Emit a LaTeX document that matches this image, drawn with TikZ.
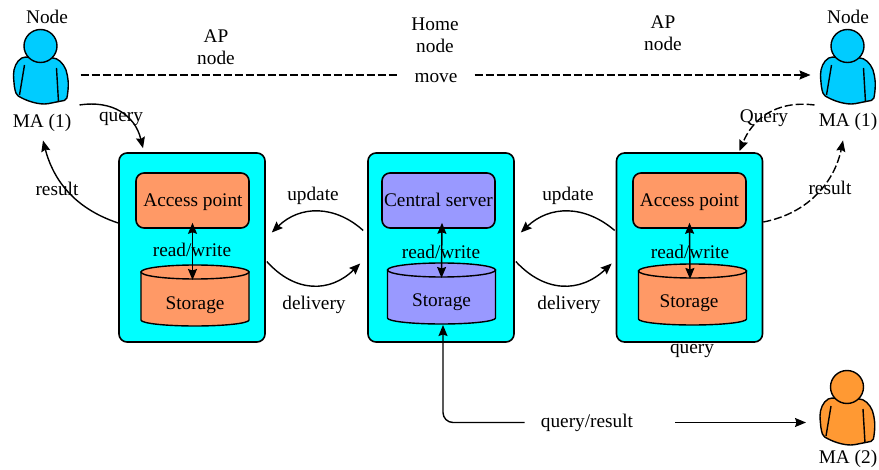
\documentclass[tikz,border=0pt]{standalone}
\usepackage{fontspec}
\setmainfont{Liberation Serif}
\usetikzlibrary{arrows.meta}
\definecolor{cellcyan}{HTML}{00FFFF}
\definecolor{apfill}{HTML}{FF9966}
\definecolor{homefill}{HTML}{9999FF}
\definecolor{userblue}{HTML}{00CCFF}
\definecolor{userorange}{HTML}{FF9933}
\begin{document}
\begin{tikzpicture}[
        x=1pt, y=-1pt,
        font=\fontsize{19.3}{22}\selectfont,
        cell/.style={rectangle, draw=black, fill=cellcyan, line width=1.6pt, rounded corners=8pt, minimum width=146pt, minimum height=189pt},
        server/.style={rectangle, draw=black, line width=1.6pt, rounded corners=8pt, minimum width=113pt, minimum height=55pt, inner sep=0pt},
        label/.style={inner sep=0pt, align=center, yshift=-1.5pt},
        arrow/.style={->, >={Stealth[length=11pt,width=9pt,inset=1.5pt]}, line width=1.4pt},
        both/.style={<->, >={Stealth[length=11pt,width=9pt,inset=1.5pt]}, line width=1.4pt},
        longdash/.style={dash pattern=on 8pt off 3pt},
        store/.pic={
            \draw[fill=#1, line width=1.4pt] (-54,-24) -- (-54,24) arc[start angle=180, end angle=360, x radius=54pt, y radius=6pt] -- (54,-24) -- cycle;
            \draw[fill=#1, line width=1.4pt] (0,-24) ellipse[x radius=54pt, y radius=7pt];
            \coordinate (-top) at (0,-16);
            \coordinate (-bottom) at (0,31);
        },
        person/.pic={
            \draw[fill=#1, line width=1.4pt, rounded corners=2pt] (-17,11) .. controls (-24,15) and (-27,22) .. (-27,31) -- (-26,42) -- (-24,49) .. controls (-14,55) and (-4,58) .. (6,58) -- (26,54) .. controls (28,44) and (28,36) .. (27,31) .. controls (26,22) and (21,15) .. (14,12) -- cycle;
            \draw[line width=1.4pt] (-16,19) -- (-21,49) (16,22) -- (18,56);
            \draw[fill=#1, line width=1.4pt] (0,0) circle (16.5);
            \coordinate (-east) at (27,29);
            \coordinate (-west) at (-27,29);
            \coordinate (-se) at (39,59);
            \coordinate (-sw) at (-33,59);
        }
    ]
    \useasboundingbox (0,0) rectangle (879,470);

    % Cells
    \node (cell1) at (192,247.5) [cell] {};
    \node (cell2) at (441,247.5) [cell] {};
    \node (cell3) at (689.5,247.5) [cell] {};

    \node (ap1) at (192.5,200.5) [server, fill=apfill] {};
    \node (central) at (438.5,200.5) [server, fill=homefill] {};
    \node (ap3) at (689.5,200.5) [server, fill=apfill] {};
    \node (aptext1) at (193,201) [label] {Access point};
    \node (centraltext) at (438.5,198.5) [label] {Central server};
    \node (aptext3) at (689.5,201) [label] {Access point};

    \pic (store1) at (195,296) {store=apfill};
    \pic (store2) at (441.5,294) {store=homefill};
    \pic (store3) at (692.5,295) {store=apfill};

    \node (storetext1) at (195,304) [label] {Storage};
    \node (storetext2) at (441.5,301) [label] {Storage};
    \node (storetext3) at (689,302) [label] {Storage};

    % Users
    \pic (user1) at (40.5,46) {person=userblue};
    \pic (user3) at (847.5,46) {person=userblue};
    \pic (user2) at (847,387) {person=userorange};

    \node (node1) at (47,15) [label] {Node};
    \node (node3) at (848,15) [label] {Node};
    \node (ma1) at (42,121) [label] {MA (1)};
    \node (ma3) at (848,120) [label] {MA (1)};
    \node (ma2) at (848,457) [label] {MA (2)};

    % Top row
    \node (apnode1) at (216,46) [label] {AP\\node};
    \node (home) at (435,34) [label] {Home\\node};
    \node (apnode3) at (663,32) [label] {AP\\node};
    \node (move) at (436,77) [label] {move};
    \draw[line width=1.5pt, longdash, shorten <=13pt] (user1-east) -- ([xshift=-17pt]move.west |- user1-east);
    \draw[arrow, line width=1.5pt, longdash, shorten >=10pt] ([xshift=17pt]move.east |- user3-west) -- (user3-west);

    % Read and write
    \node (rw1) at (192,248) [label] {read/write};
    \node (rw2) at (441,250) [label] {read/write};
    \node (rw3) at (690,250) [label] {read/write};
    \draw[both] ([yshift=6pt]ap1.south) -- ([xshift=-2.5pt]store1-top);
    \draw[both] ([xshift=3.5pt,yshift=6pt]central.south) -- (store2-top);
    \draw[both] ([yshift=6pt]ap3.south) -- ([xshift=-2.5pt]store3-top);

    % Between cells
    \node (update1) at (313,194) [label] {update};
    \node (delivery1) at (314,303) [label] {delivery};
    \node (update2) at (568,194) [label] {update};
    \node (delivery2) at (569,303) [label] {delivery};
    \draw[arrow] ([shift={(-4,-17)}]cell2.west) .. controls (335,205) and (300,205) .. ([shift={(6,-15)}]cell1.east);
    \draw[arrow] ([shift={(1,14)}]cell1.east) .. controls (295,293) and (330,293) .. ([shift={(-7,16)}]cell2.west);
    \draw[arrow] ([shift={(-1,-17)}]cell3.west) .. controls (585,205) and (550,205) .. ([shift={(6,-15)}]cell2.east);
    \draw[arrow] ([shift={(1,14)}]cell2.east) .. controls (545,293) and (580,293) .. ([shift={(-4,16)}]cell3.west);

    % Queries and results
    \node (query1) at (121,117) [label] {query};
    \node (result1) at (57,187) [label] {result};
    \node (query3) at (764,117) [label] {Query};
    \node (result3) at (830,186) [label] {result};
    \node (query4) at (692,349) [label] {query};
    \node (queryresult) at (587,421) [label] {query/result};
    \draw[arrow] (user1-se) .. controls (112,100) and (135,115) .. ([xshift=-49pt,yshift=4pt]cell1.north);
    \draw[arrow] (cell1.west |- 0,223) .. controls (70,207) and (52,175) .. ([shift={(1,9)}]ma1.south);
    \draw[arrow, longdash] (user3-sw) .. controls (775,100) and (752,120) .. ([xshift=50pt,yshift=1pt]cell3.north);
    \draw[arrow, longdash] (cell3.east |- 0,222) .. controls (810,213) and (835,180) .. ([shift={(-5,10)}]ma3.south);
    \draw[arrow, rounded corners=10pt] ([xshift=-16pt]queryresult.west) -- ([xshift=1.5pt]store2-bottom |- queryresult.west) -- ([xshift=1.5pt]store2-bottom);
    \draw[arrow, shorten >=14pt] ([xshift=42pt]queryresult.east) -- (user2-west |- queryresult.east);

    \end{tikzpicture}
\end{document}
